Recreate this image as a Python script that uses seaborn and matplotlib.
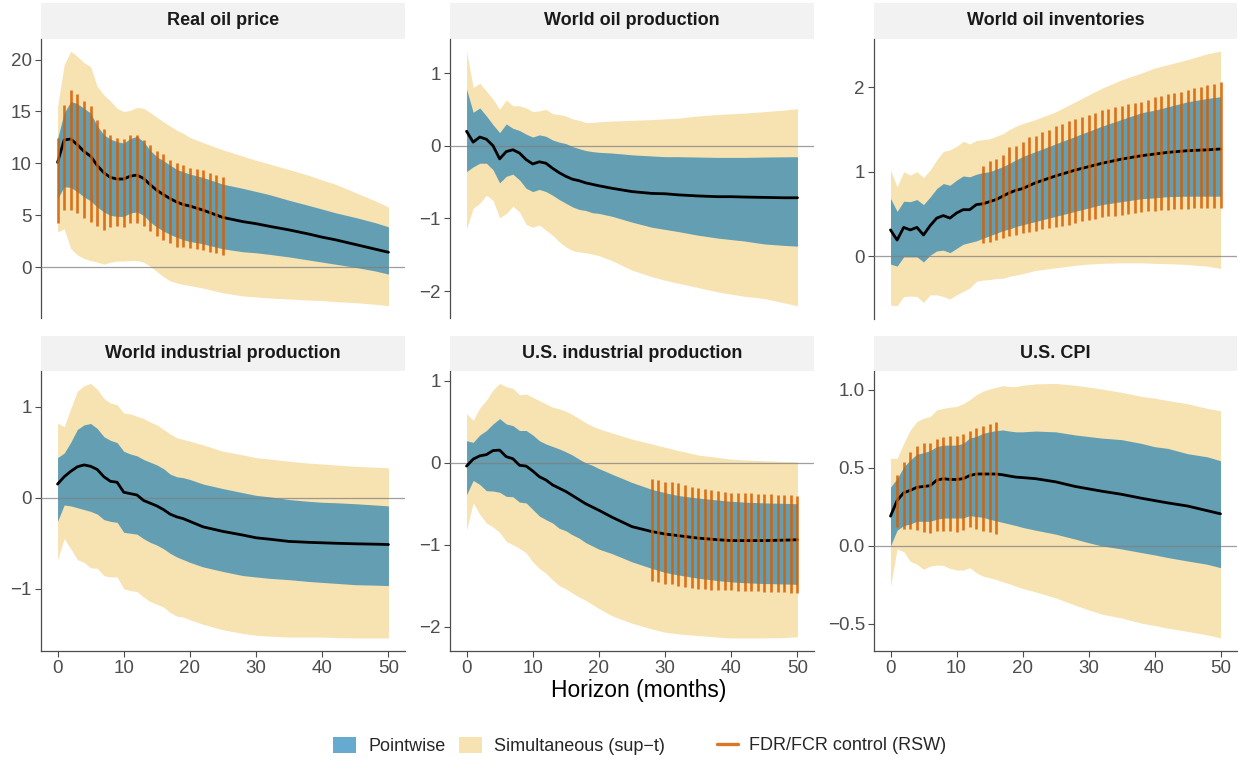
import matplotlib
matplotlib.use("Agg")
import numpy as np
import pandas as pd
import matplotlib.pyplot as plt
import seaborn as sns
from matplotlib.patches import Patch
from matplotlib.lines import Line2D
from matplotlib.ticker import FuncFormatter, FixedLocator

# ---------------- data ----------------
horizon = [0, 1, 2, 3, 4, 5, 6, 7, 8, 9, 10, 11, 12, 13, 14, 15, 16, 17, 18, 19, 20,
           22, 25, 28, 30, 32, 35, 38, 40, 42, 45, 48, 50]

panel_titles = ["Real oil price", "World oil production", "World oil inventories",
                "World industrial production", "U.S. industrial production", "U.S. CPI"]

# Real oil price
price_irf = [10.1, 12.26, 12.35, 11.8, 11.15, 10.7, 9.8, 9.1, 8.65, 8.5, 8.5, 8.78, 8.88, 8.56, 7.95,
             7.42, 7.0, 6.62, 6.29, 6.04, 5.9, 5.5, 4.8, 4.4, 4.2, 3.95, 3.6, 3.2, 2.9, 2.65, 2.2, 1.75, 1.45]
price_pw_up = [12.4, 14.85, 15.97, 15.75, 15.3, 14.85, 13.6, 12.75, 12.33, 12.1, 11.95, 12.4, 12.6, 12.1,
               11.25, 10.65, 10.26, 9.84, 9.43, 9.2, 8.97, 8.65, 8.0, 7.6, 7.3, 7.0, 6.45, 5.95, 5.6, 5.25,
               4.8, 4.3, 3.9]
price_pw_lo = [6.6, 7.75, 7.7, 7.26, 6.78, 6.39, 5.8, 5.33, 5.0, 4.9, 4.9, 5.23, 5.33, 5.0, 4.36, 3.87,
               3.49, 3.16, 2.9, 2.65, 2.49, 2.26, 1.78, 1.5, 1.4, 1.25, 1.0, 0.7, 0.5, 0.3, 0.0, -0.35, -0.65]
price_sim_up = [15.5, 19.5, 20.8, 20.3, 19.7, 19.3, 17.4, 16.6, 16.0, 15.3, 15.0, 15.1, 15.4, 15.3, 14.9,
                14.45, 14.0, 13.6, 13.2, 12.9, 12.5, 12.0, 11.3, 10.7, 10.3, 9.95, 9.4, 8.85, 8.4, 8.0,
                7.2, 6.4, 5.8]
price_sim_lo = [3.4, 3.7, 1.8, 1.2, 0.85, 0.65, 0.5, 0.3, 0.5, 0.6, 0.6, 0.65, 0.65, 0.5, 0.1, -0.4, -0.9,
                -1.3, -1.5, -1.65, -1.75, -2.0, -2.45, -2.75, -2.85, -2.95, -3.05, -3.15, -3.2, -3.3, -3.4,
                -3.55, -3.7]
price_fdr_h = list(range(0, 26))
price_fdr_up = [12.43, 15.65, 17.04, 16.7, 16.0, 15.5, 14.2, 13.3, 12.76, 12.43, 12.33, 12.76, 12.76,
                12.27, 11.8, 11.23, 10.9, 10.33, 10.0, 9.84, 9.6, 9.5, 9.36, 9.1, 8.88, 8.65]
price_fdr_lo = [4.26, 5.56, 5.5, 5.23, 4.78, 4.36, 3.94, 3.55, 3.87, 3.94, 3.87, 4.26, 4.26, 3.94, 3.48,
                2.97, 2.65, 2.32, 2.0, 1.94, 1.84, 1.78, 1.62, 1.52, 1.36, 1.23]

# World oil production
prod_irf = [0.2, 0.05, 0.12, 0.09, 0.0, -0.18, -0.08, -0.055, -0.1, -0.19, -0.25, -0.22, -0.24, -0.31,
            -0.37, -0.42, -0.46, -0.48, -0.51, -0.53, -0.55, -0.585, -0.63, -0.655, -0.66, -0.675, -0.69,
            -0.70, -0.70, -0.705, -0.71, -0.715, -0.715]
prod_pw_up = [0.78, 0.46, 0.52, 0.41, 0.29, 0.18, 0.30, 0.24, 0.21, 0.16, 0.12, 0.15, 0.13, 0.08, 0.05,
              0.03, -0.01, -0.04, -0.065, -0.08, -0.09, -0.10, -0.125, -0.14, -0.15, -0.15, -0.155, -0.16,
              -0.16, -0.16, -0.155, -0.152, -0.15]
prod_pw_lo = [-0.355, -0.29, -0.24, -0.24, -0.33, -0.51, -0.42, -0.39, -0.47, -0.585, -0.63, -0.6, -0.63,
              -0.68, -0.74, -0.79, -0.84, -0.875, -0.89, -0.92, -0.93, -0.97, -1.05, -1.12, -1.15, -1.18,
              -1.23, -1.27, -1.29, -1.31, -1.35, -1.37, -1.38]
prod_sim_up = [1.30, 0.80, 0.86, 0.75, 0.64, 0.50, 0.63, 0.55, 0.55, 0.52, 0.47, 0.48, 0.50, 0.44, 0.43,
               0.41, 0.37, 0.35, 0.32, 0.32, 0.33, 0.34, 0.35, 0.36, 0.37, 0.38, 0.41, 0.43, 0.44, 0.45,
               0.47, 0.49, 0.51]
prod_sim_lo = [-1.14, -0.86, -0.79, -0.68, -0.75, -0.99, -0.93, -0.83, -0.91, -1.08, -1.12, -1.09, -1.16,
               -1.23, -1.32, -1.39, -1.44, -1.46, -1.47, -1.49, -1.51, -1.58, -1.71, -1.80, -1.85, -1.89,
               -1.95, -2.01, -2.04, -2.07, -2.1, -2.16, -2.2]

# World oil inventories
inv_irf = [0.31, 0.19, 0.34, 0.31, 0.34, 0.25, 0.36, 0.45, 0.48, 0.45, 0.51, 0.55, 0.55, 0.61, 0.62, 0.645,
           0.67, 0.71, 0.75, 0.78, 0.80, 0.87, 0.95, 1.02, 1.06, 1.10, 1.15, 1.19, 1.21, 1.23, 1.25, 1.26, 1.27]
inv_pw_up = [0.685, 0.53, 0.65, 0.645, 0.67, 0.61, 0.70, 0.80, 0.86, 0.84, 0.90, 0.95, 0.94, 0.97, 0.99,
             1.0, 1.03, 1.06, 1.10, 1.14, 1.18, 1.24, 1.33, 1.42, 1.48, 1.54, 1.62, 1.70, 1.73, 1.77, 1.83,
             1.87, 1.89]
inv_pw_lo = [-0.095, -0.12, -0.01, -0.01, -0.01, -0.07, 0.01, 0.06, 0.07, 0.04, 0.09, 0.14, 0.16, 0.18,
             0.21, 0.24, 0.27, 0.30, 0.32, 0.35, 0.37, 0.41, 0.47, 0.53, 0.57, 0.61, 0.645, 0.68, 0.69,
             0.705, 0.71, 0.71, 0.71]
inv_sim_up = [1.02, 0.82, 1.0, 0.96, 1.0, 0.93, 1.02, 1.14, 1.24, 1.26, 1.30, 1.36, 1.33, 1.37, 1.38, 1.39,
              1.42, 1.45, 1.50, 1.54, 1.57, 1.62, 1.71, 1.83, 1.91, 1.99, 2.09, 2.17, 2.23, 2.27, 2.33,
              2.40, 2.43]
inv_sim_lo = [-0.58, -0.59, -0.48, -0.475, -0.48, -0.55, -0.46, -0.46, -0.48, -0.51, -0.46, -0.42, -0.38,
              -0.30, -0.285, -0.28, -0.265, -0.265, -0.24, -0.225, -0.21, -0.17, -0.14, -0.11, -0.095,
              -0.087, -0.08, -0.08, -0.087, -0.09, -0.1, -0.12, -0.147]
inv_fdr_h = list(range(14, 51))
inv_fdr_up = [1.07, 1.13, 1.15, 1.20, 1.29, 1.31, 1.35, 1.41, 1.43, 1.47, 1.50, 1.54, 1.57, 1.60, 1.62,
              1.655, 1.67, 1.70, 1.73, 1.74, 1.77, 1.78, 1.80, 1.82, 1.83, 1.85, 1.885, 1.90, 1.92, 1.93,
              1.95, 1.97, 1.99, 2.01, 2.03, 2.04, 2.06]
inv_fdr_lo = [0.16, 0.17, 0.19, 0.21, 0.24, 0.25, 0.27, 0.29, 0.30, 0.32, 0.33, 0.35, 0.36, 0.37, 0.39,
              0.41, 0.43, 0.44, 0.46, 0.47, 0.48, 0.49, 0.50, 0.51, 0.52, 0.53, 0.54, 0.545, 0.55, 0.555,
              0.56, 0.56, 0.565, 0.565, 0.57, 0.57, 0.575]

# World industrial production
wip_irf = [0.15, 0.23, 0.29, 0.34, 0.36, 0.345, 0.31, 0.23, 0.18, 0.17, 0.06, 0.045, 0.03, -0.03, -0.06,
           -0.09, -0.13, -0.18, -0.21, -0.23, -0.26, -0.32, -0.37, -0.41, -0.44, -0.455, -0.48, -0.49,
           -0.495, -0.50, -0.506, -0.51, -0.514]
wip_pw_up = [0.44, 0.49, 0.61, 0.75, 0.80, 0.815, 0.76, 0.67, 0.63, 0.605, 0.51, 0.48, 0.46, 0.42, 0.39,
             0.36, 0.32, 0.26, 0.23, 0.22, 0.20, 0.15, 0.10, 0.055, 0.026, 0.01, -0.02, -0.04, -0.05,
             -0.055, -0.066, -0.08, -0.09]
wip_pw_lo = [-0.26, -0.08, -0.09, -0.11, -0.13, -0.15, -0.18, -0.24, -0.26, -0.27, -0.38, -0.39, -0.40,
             -0.45, -0.49, -0.52, -0.56, -0.61, -0.65, -0.68, -0.71, -0.76, -0.81, -0.855, -0.87, -0.885,
             -0.90, -0.92, -0.93, -0.94, -0.955, -0.96, -0.965]
wip_sim_up = [0.82, 0.78, 0.98, 1.17, 1.23, 1.255, 1.19, 1.09, 1.04, 1.02, 0.93, 0.92, 0.895, 0.87, 0.83,
              0.80, 0.75, 0.70, 0.66, 0.64, 0.62, 0.58, 0.51, 0.47, 0.44, 0.425, 0.40, 0.38, 0.37, 0.36,
              0.345, 0.335, 0.33]
wip_sim_lo = [-0.68, -0.45, -0.56, -0.68, -0.71, -0.77, -0.775, -0.855, -0.87, -0.87, -1.0, -1.02, -1.03,
              -1.09, -1.14, -1.17, -1.2, -1.26, -1.30, -1.31, -1.34, -1.39, -1.45, -1.49, -1.51, -1.52,
              -1.53, -1.53, -1.53, -1.535, -1.54, -1.54, -1.54]

# U.S. industrial production
usip_irf = [-0.04, 0.045, 0.085, 0.10, 0.15, 0.155, 0.075, 0.05, -0.03, -0.04, -0.10, -0.17, -0.21,
            -0.27, -0.31, -0.35, -0.40, -0.45, -0.50, -0.54, -0.58, -0.665, -0.78, -0.84, -0.87, -0.89,
            -0.92, -0.94, -0.95, -0.95, -0.95, -0.945, -0.94]
usip_pw_up = [0.27, 0.25, 0.34, 0.395, 0.475, 0.54, 0.475, 0.455, 0.395, 0.395, 0.34, 0.27, 0.23, 0.20,
              0.17, 0.135, 0.095, 0.045, 0.0, -0.03, -0.07, -0.14, -0.24, -0.325, -0.365, -0.40, -0.43,
              -0.455, -0.47, -0.48, -0.49, -0.495, -0.50]
usip_pw_lo = [-0.39, -0.215, -0.265, -0.34, -0.345, -0.36, -0.41, -0.415, -0.48, -0.49, -0.57, -0.65,
              -0.695, -0.735, -0.80, -0.83, -0.88, -0.92, -0.975, -1.015, -1.055, -1.11, -1.21, -1.29,
              -1.34, -1.37, -1.41, -1.44, -1.455, -1.465, -1.475, -1.48, -1.485]
usip_sim_up = [0.60, 0.52, 0.67, 0.765, 0.89, 0.97, 0.93, 0.91, 0.83, 0.84, 0.80, 0.76, 0.72, 0.68, 0.66,
               0.63, 0.59, 0.54, 0.49, 0.45, 0.415, 0.365, 0.29, 0.23, 0.19, 0.15, 0.095, 0.065, 0.045,
               0.035, 0.025, 0.015, 0.012]
usip_sim_lo = [-0.82, -0.49, -0.63, -0.735, -0.785, -0.85, -0.96, -1.0, -1.045, -1.10, -1.21, -1.29,
               -1.35, -1.43, -1.50, -1.54, -1.59, -1.64, -1.68, -1.73, -1.78, -1.87, -1.96, -2.03, -2.07,
               -2.09, -2.11, -2.13, -2.14, -2.14, -2.14, -2.135, -2.125]
usip_fdr_h = list(range(28, 51))
usip_fdr_up = [-0.193, -0.21, -0.23, -0.235, -0.25, -0.275, -0.29, -0.31, -0.316, -0.33, -0.345, -0.353,
               -0.365, -0.365, -0.374, -0.374, -0.378, -0.386, -0.386, -0.394, -0.394, -0.398, -0.407]
usip_fdr_lo = [-1.443, -1.455, -1.476, -1.484, -1.508, -1.516, -1.529, -1.537, -1.537, -1.549, -1.549,
               -1.557, -1.557, -1.565, -1.565, -1.57, -1.57, -1.578, -1.578, -1.582, -1.582, -1.586, -1.59]

# U.S. CPI
cpi_irf = [0.19, 0.29, 0.34, 0.355, 0.375, 0.38, 0.385, 0.42, 0.43, 0.425, 0.425, 0.43, 0.45, 0.46, 0.46,
           0.46, 0.46, 0.455, 0.447, 0.44, 0.437, 0.43, 0.41, 0.38, 0.365, 0.35, 0.33, 0.305, 0.29, 0.275,
           0.255, 0.225, 0.205]
cpi_pw_up = [0.376, 0.43, 0.505, 0.55, 0.587, 0.596, 0.61, 0.635, 0.645, 0.645, 0.645, 0.656, 0.69, 0.70,
             0.72, 0.73, 0.738, 0.742, 0.735, 0.73, 0.73, 0.735, 0.73, 0.71, 0.70, 0.69, 0.68, 0.656, 0.635,
             0.624, 0.59, 0.57, 0.545]
cpi_pw_lo = [0.0, 0.10, 0.13, 0.14, 0.157, 0.157, 0.157, 0.17, 0.178, 0.178, 0.178, 0.178, 0.194, 0.187,
             0.183, 0.17, 0.16, 0.15, 0.14, 0.13, 0.118, 0.10, 0.075, 0.043, 0.02, 0.0, -0.02, -0.043,
             -0.058, -0.075, -0.097, -0.118, -0.14]
cpi_sim_up = [0.56, 0.56, 0.656, 0.742, 0.796, 0.817, 0.828, 0.87, 0.88, 0.888, 0.892, 0.91, 0.935, 0.968,
              0.99, 1.004, 1.015, 1.026, 1.02, 1.02, 1.028, 1.037, 1.04, 1.028, 1.017, 1.004, 0.983, 0.957,
              0.946, 0.93, 0.91, 0.88, 0.865]
cpi_sim_lo = [-0.26, -0.02, -0.037, -0.10, -0.118, -0.15, -0.13, -0.123, -0.125, -0.144, -0.155, -0.155,
              -0.14, -0.172, -0.194, -0.204, -0.215, -0.23, -0.243, -0.258, -0.273, -0.295, -0.333, -0.38,
              -0.41, -0.437, -0.462, -0.495, -0.51, -0.527, -0.548, -0.57, -0.59]
cpi_fdr_h = list(range(1, 17))
cpi_fdr_up = [0.452, 0.537, 0.602, 0.639, 0.656, 0.656, 0.682, 0.699, 0.703, 0.703, 0.716, 0.737, 0.753,
              0.768, 0.781, 0.796]
cpi_fdr_lo = [0.118, 0.108, 0.108, 0.101, 0.086, 0.082, 0.097, 0.097, 0.097, 0.09, 0.101, 0.118, 0.108,
              0.092, 0.086, 0.075]

y_ticks = [[0, 5, 10, 15, 20], [-2, -1, 0, 1], [0, 1, 2], [-1, 0, 1], [-2, -1, 0, 1], [-0.5, 0.0, 0.5, 1.0]]
x_ticks = [0, 10, 20, 30, 40, 50]
legend_labels = ["Pointwise", "Simultaneous (sup\u2212t)", "FDR/FCR control (RSW)"]
x_label = "Horizon (months)"

# ---------------- style ----------------
sns.set_theme(style="white")
plt.rcParams['font.family'] = ['Liberation Sans', 'DejaVu Sans']
plt.rcParams['axes.unicode_minus'] = True

PW_COL, PW_ALPHA = "#0072B2", 0.6
SIM_COL, SIM_ALPHA = "#E69F00", 0.3
FDR_COL, FDR_ALPHA = "#D55E00", 0.85
TXT = "#4D4D4D"
TICK_FS = 13.5

panels = [
    dict(irf=price_irf, pu=price_pw_up, pl=price_pw_lo, su=price_sim_up, sl=price_sim_lo,
         fh=price_fdr_h, fu=price_fdr_up, fl=price_fdr_lo),
    dict(irf=prod_irf, pu=prod_pw_up, pl=prod_pw_lo, su=prod_sim_up, sl=prod_sim_lo,
         fh=[], fu=[], fl=[]),
    dict(irf=inv_irf, pu=inv_pw_up, pl=inv_pw_lo, su=inv_sim_up, sl=inv_sim_lo,
         fh=inv_fdr_h, fu=inv_fdr_up, fl=inv_fdr_lo),
    dict(irf=wip_irf, pu=wip_pw_up, pl=wip_pw_lo, su=wip_sim_up, sl=wip_sim_lo,
         fh=[], fu=[], fl=[]),
    dict(irf=usip_irf, pu=usip_pw_up, pl=usip_pw_lo, su=usip_sim_up, sl=usip_sim_lo,
         fh=usip_fdr_h, fu=usip_fdr_up, fl=usip_fdr_lo),
    dict(irf=cpi_irf, pu=cpi_pw_up, pl=cpi_pw_lo, su=cpi_sim_up, sl=cpi_sim_lo,
         fh=cpi_fdr_h, fu=cpi_fdr_up, fl=cpi_fdr_lo),
]

W, HPX = 1238.0, 759.0
fig = plt.figure(figsize=(W / 100, HPX / 100), dpi=100)


def rect(x0, y0, x1, y1):
    return [x0 / W, 1 - y1 / HPX, (x1 - x0) / W, (y1 - y0) / HPX]


cols = [(41, 405), (450, 814), (874, 1237)]
rows = [(38.5, 318.5), (370.7, 650.7)]
strip_rows = [(3.3, 38.5), (335.5, 370.7)]


def fmt_factory(decimals):
    def f(v, pos):
        s = f"{v:.{decimals}f}" if decimals else f"{v:g}"
        return s.replace("-", "\u2212")
    return FuncFormatter(f)


for i, p in enumerate(panels):
    r, c = divmod(i, 3)
    x0, x1 = cols[c]
    y0, y1 = rows[r]
    sy0, sy1 = strip_rows[r]

    # strip
    sax = fig.add_axes(rect(x0, sy0, x1, sy1))
    sax.set_facecolor("#F2F2F2")
    for s in sax.spines.values():
        s.set_visible(False)
    sax.set_xticks([])
    sax.set_yticks([])
    sax.text(0.5, 0.5, panel_titles[i], ha="center", va="center", fontsize=13,
             fontweight="bold", color="#1A1A1A", transform=sax.transAxes)

    ax = fig.add_axes(rect(x0, y0, x1, y1))
    ax.set_facecolor("white")
    df = pd.DataFrame({"h": horizon, "irf": p["irf"]})
    ax.fill_between(horizon, p["sl"], p["su"], color=SIM_COL, alpha=SIM_ALPHA, lw=0, zorder=1)
    ax.fill_between(horizon, p["pl"], p["pu"], color=PW_COL, alpha=PW_ALPHA, lw=0, zorder=2)
    ax.axhline(0, color="#7F7F7F", lw=0.9, alpha=0.75, zorder=3)
    sns.lineplot(data=df, x="h", y="irf", color="black", lw=2.0, ax=ax, zorder=4)
    if len(p["fh"]):
        ax.vlines(p["fh"], p["fl"], p["fu"], color=FDR_COL, alpha=FDR_ALPHA, lw=1.9, zorder=5)

    lo = min(min(p["sl"]), min(p["fl"]) if p["fl"] else 0, 0)
    hi = max(max(p["su"]), max(p["fu"]) if p["fu"] else 0, 0)
    pad = 0.05 * (hi - lo)
    ax.set_ylim(lo - pad, hi + pad)
    ax.set_xlim(-2.5, 52.5)
    ax.set_xlabel("")
    ax.set_ylabel("")

    ax.yaxis.set_major_locator(FixedLocator(y_ticks[i]))
    ax.yaxis.set_major_formatter(fmt_factory(1 if i == 5 else 0))
    ax.tick_params(axis="y", left=True, length=4, width=0.8, color="#4D4D4D", pad=2.5,
                   labelsize=TICK_FS, labelcolor=TXT)
    for s in ["top", "right"]:
        ax.spines[s].set_visible(False)
    ax.spines["left"].set_color("#4D4D4D")
    ax.spines["left"].set_linewidth(0.9)
    if r == 1:
        ax.xaxis.set_major_locator(FixedLocator(x_ticks))
        ax.tick_params(axis="x", bottom=True, length=4, width=0.8, color="#4D4D4D", pad=2.5,
                       labelsize=TICK_FS, labelcolor=TXT)
        ax.spines["bottom"].set_color("#4D4D4D")
        ax.spines["bottom"].set_linewidth(0.9)
    else:
        ax.spines["bottom"].set_visible(False)
        ax.set_xticks([])
    ax.grid(False)

fig.text(639 / W, 1 - 690 / HPX, x_label, ha="center", va="center", fontsize=16.5, color="black")

# legends
fill_handles = [Patch(facecolor=PW_COL, alpha=PW_ALPHA, edgecolor="none"),
                Patch(facecolor=SIM_COL, alpha=SIM_ALPHA, edgecolor="none")]
leg1 = fig.legend(fill_handles, legend_labels[:2], loc="center left",
                  bbox_to_anchor=(333 / W, 1 - 746 / HPX), ncol=2, frameon=False,
                  fontsize=13, handlelength=1.25, handleheight=1.05, handletextpad=0.7,
                  columnspacing=0.75, borderpad=0, borderaxespad=0)
line_handle = [Line2D([0], [0], color=FDR_COL, alpha=FDR_ALPHA, lw=2.4)]
leg2 = fig.legend(line_handle, legend_labels[2:], loc="center left",
                  bbox_to_anchor=(717 / W, 1 - 746 / HPX), frameon=False, fontsize=13,
                  handlelength=1.15, handletextpad=0.6, borderpad=0, borderaxespad=0)

fig.savefig("out.png", dpi=100)
